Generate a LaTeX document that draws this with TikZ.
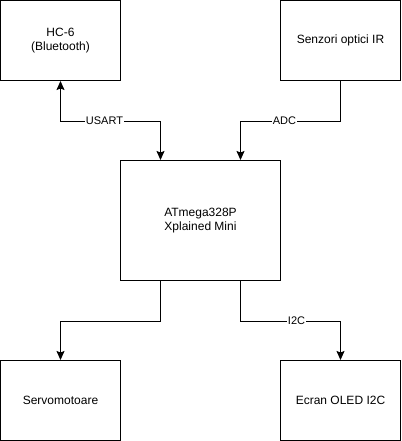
\documentclass[tikz,border=0pt]{standalone}
\usepackage{fontspec}
\setmainfont{Liberation Sans}
\usetikzlibrary{positioning,arrows.meta}

\begin{document}
\begin{tikzpicture}[x=1pt, y=-1pt, >={Stealth[length=9pt,width=8pt,inset=1.5pt]}, line width=1pt,
    every node/.style={font=\fontsize{12}{14.4}\selectfont},
    block/.style={rectangle, draw=black, minimum width=120pt, minimum height=80pt, inner sep=0pt, align=center},
    lbl/.style={fill=white, inner sep=0.5pt, font=\fontsize{11}{13}\selectfont}]
    \useasboundingbox[fill=white] (0,0) rectangle (401,441);
    \node (mcu) [block, minimum width=160pt, minimum height=120pt] at (200.5,220.5) {ATmega328P\\Xplained Mini};
    \node (hc) [block] at (60.5,40.5) {HC-6\\(Bluetooth)};
    \node (ir) [block] at (340.5,40.5) {Senzori optici IR};
    \node (servo) [block] at (60.5,400.5) {Servomotoare};
    \node (oled) [block] at (340.5,400.5) {Ecran OLED I2C};

    \draw[<->] (hc.south) -- ++(0,40) -| node[lbl, pos=0.22] {USART} ([xshift=-40pt]mcu.north);
    \draw[->] (ir.south) -- ++(0,40) -| node[lbl, pos=0.28] {ADC} ([xshift=40pt]mcu.north);
    \draw[->] ([xshift=-40pt]mcu.south) -- ++(0,40) -| (servo.north);
    \draw[->] ([xshift=40pt]mcu.south) -- ++(0,40) -| node[lbl, pos=0.28] {I2C} (oled.north);
\end{tikzpicture}
\end{document}
